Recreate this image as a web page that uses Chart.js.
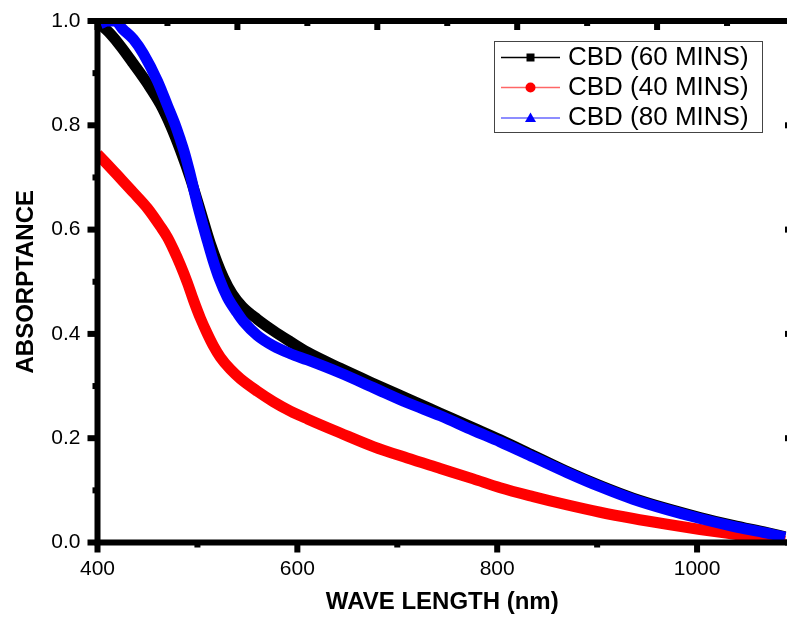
<!DOCTYPE html>
<html>
<head>
<meta charset="utf-8">
<script src="https://cdn.jsdelivr.net/npm/chart.js@4.4.1/dist/chart.umd.min.js"></script>
<style>
    html, body { margin: 0; padding: 0; background: #fff; }
    #wrap { width: 787px; height: 618px; }
</style>
</head>
<body>
<div id="wrap"><canvas id="grafico" width="787" height="618"></canvas></div>
<script>
// ==============================
// Datos
// ==============================
const wl60 = [400, 405, 413, 423, 436, 450, 463, 473, 483, 493, 503, 513, 526, 535, 545, 560, 576, 593, 610, 643, 676, 710, 743, 776, 803, 836, 870, 903, 936, 970, 1003, 1036, 1070, 1088];
const abs60 = [1.0, 0.99, 0.975, 0.952, 0.918, 0.880, 0.840, 0.800, 0.752, 0.698, 0.636, 0.573, 0.508, 0.476, 0.452, 0.428, 0.406, 0.385, 0.365, 0.334, 0.305, 0.276, 0.248, 0.220, 0.197, 0.167, 0.136, 0.109, 0.085, 0.065, 0.048, 0.033, 0.019, 0.011];

const wl40 = [400, 410, 423, 436, 450, 463, 470, 476, 483, 490, 496, 503, 510, 516, 523, 533, 543, 560, 576, 593, 610, 643, 676, 710, 743, 776, 803, 836, 870, 903, 936, 970, 1003, 1036, 1070, 1088];
const abs40 = [0.745, 0.725, 0.698, 0.671, 0.641, 0.606, 0.585, 0.562, 0.532, 0.498, 0.465, 0.430, 0.400, 0.377, 0.355, 0.332, 0.314, 0.290, 0.270, 0.252, 0.237, 0.210, 0.184, 0.162, 0.142, 0.122, 0.105, 0.088, 0.072, 0.058, 0.046, 0.035, 0.025, 0.016, 0.007, 0.002];

const wl80 = [403, 410, 418, 425, 436, 446, 460, 470, 478, 483, 487, 492, 500, 510, 515, 522, 530, 540, 546, 560, 576, 593, 610, 643, 676, 710, 743, 776, 803, 836, 870, 903, 936, 970, 1003, 1036, 1070, 1088];
const abs80 = [0.995, 1.0, 1.0, 0.985, 0.965, 0.937, 0.885, 0.838, 0.800, 0.772, 0.748, 0.712, 0.648, 0.578, 0.545, 0.505, 0.470, 0.440, 0.424, 0.397, 0.377, 0.362, 0.350, 0.325, 0.297, 0.268, 0.243, 0.215, 0.193, 0.164, 0.134, 0.107, 0.083, 0.063, 0.046, 0.031, 0.018, 0.010];

const etiquetas = ["CBD (60 MINS)", "CBD (40 MINS)", "CBD (80 MINS)"];
const xTicks = [400, 600, 800, 1000];
const xMinor = [500, 700, 900];
const yTicks = [0.0, 0.2, 0.4, 0.6, 0.8, 1.0];
const yMinor = [0.1, 0.3, 0.5, 0.7, 0.9];
const topTicks = [400, 470, 540, 610, 680, 750, 820, 890, 960, 1030];

const fuente = "'Liberation Sans', Arial, sans-serif";
const pares = (xs, ys) => xs.map((x, i) => ({ x: x, y: ys[i] }));

// ==============================
// Marco y marcas de ejes
// ==============================
const marcoPlugin = {
    id: "marco",
    afterDatasetsDraw(chart) {
        const { ctx, chartArea: a, scales: { x, y } } = chart;
        ctx.save();
        ctx.strokeStyle = "#000";
        ctx.fillStyle = "#000";
        ctx.lineWidth = 6;
        ctx.beginPath();
        ctx.moveTo(a.left, a.top - 3);
        ctx.lineTo(a.left, a.bottom + 3);
        ctx.moveTo(a.left - 3, a.bottom);
        ctx.lineTo(chart.width, a.bottom);
        ctx.moveTo(a.left - 3, a.top);
        ctx.lineTo(chart.width, a.top);
        ctx.stroke();

        xTicks.forEach(v => { const p = x.getPixelForValue(v); ctx.fillRect(p - 3, a.bottom, 6, 10); });
        xMinor.forEach(v => { const p = x.getPixelForValue(v); ctx.fillRect(p - 3, a.bottom, 6, 5); });
        yTicks.forEach(v => { const p = y.getPixelForValue(v); ctx.fillRect(a.left - 10, p - 3, 10, 6); });
        yMinor.forEach(v => { const p = y.getPixelForValue(v); ctx.fillRect(a.left - 5, p - 3, 5, 6); });
        topTicks.forEach((v, i) => {
            const p = x.getPixelForValue(v);
            ctx.fillRect(p - 3, a.top, 6, i % 2 === 0 ? 9 : 5);
        });
        yTicks.forEach(v => { const p = y.getPixelForValue(v); ctx.fillRect(a.right - 2, p - 3, 4, 6); });
        ctx.restore();
    }
};

// ==============================
// Leyenda dentro del gráfico
// ==============================
const leyendaPlugin = {
    id: "leyenda",
    afterDraw(chart) {
        const ctx = chart.ctx;
        ctx.save();
        ctx.strokeStyle = "#444";
        ctx.lineWidth = 1;
        ctx.strokeRect(494.5, 41.5, 268, 91);
        const filas = [57.5, 87.5, 118];
        const lineas = ["#000", "rgba(255,0,0,0.6)", "rgba(0,0,255,0.6)"];
        chart.data.datasets.forEach((ds, i) => {
            const yy = filas[i];
            ctx.strokeStyle = lineas[i];
            ctx.lineWidth = 1.5;
            ctx.beginPath();
            ctx.moveTo(501, yy);
            ctx.lineTo(560, yy);
            ctx.stroke();
            ctx.fillStyle = ds.borderColor;
            ctx.beginPath();
            if (ds.marcador === "rect") {
                ctx.rect(526.5, yy - 4, 8, 8);
            } else if (ds.marcador === "circle") {
                ctx.arc(530.5, yy, 5, 0, Math.PI * 2);
            } else {
                ctx.moveTo(530.5, yy - 5.5);
                ctx.lineTo(536, yy + 4);
                ctx.lineTo(525, yy + 4);
                ctx.closePath();
            }
            ctx.fill();
            ctx.fillStyle = "#000";
            ctx.font = "26px " + fuente;
            ctx.textBaseline = "middle";
            ctx.textAlign = "left";
            ctx.fillText(ds.label, 568, yy);
        });
        ctx.restore();
    }
};

const ctx = document.getElementById("grafico").getContext("2d");
new Chart(ctx, {
    type: "line",
    data: {
        datasets: [
            { label: etiquetas[0], data: pares(wl60, abs60), borderColor: "#000000", marcador: "rect", order: 2 },
            { label: etiquetas[1], data: pares(wl40, abs40), borderColor: "#ff0000", marcador: "circle", order: 1 },
            { label: etiquetas[2], data: pares(wl80, abs80), borderColor: "#0000ff", marcador: "triangle", order: 0 }
        ].map(d => Object.assign(d, {
            borderWidth: 11,
            pointRadius: 0,
            fill: false,
            cubicInterpolationMode: "monotone",
            borderJoinStyle: "round",
            clip: 0
        }))
    },
    options: {
        responsive: false,
        animation: false,
        devicePixelRatio: 1,
        layout: { padding: { top: 21, right: 0, left: 0, bottom: 0 } },
        plugins: {
            legend: { display: false },
            tooltip: { enabled: false }
        },
        scales: {
            x: {
                type: "linear",
                min: 400,
                max: 1090,
                afterFit(s) {
                    s.height = 75.5;
                    s.paddingLeft = 0;
                    s.paddingRight = 0;
                },
                afterBuildTicks(s) { s.ticks = xTicks.map(v => ({ value: v })); },
                grid: { display: false, drawTicks: false },
                border: { display: false },
                ticks: {
                    font: { family: fuente, size: 21 },
                    color: "#000",
                    padding: 14,
                    callback: v => String(v)
                },
                title: {
                    display: true,
                    text: "WAVE LENGTH (nm)",
                    font: { family: fuente, size: 24, weight: "bold" },
                    color: "#000",
                    padding: { top: 0, bottom: 1 }
                }
            },
            y: {
                type: "linear",
                min: 0,
                max: 1,
                afterFit(s) {
                    s.width = 97.5;
                    s.paddingTop = 0;
                    s.paddingBottom = 0;
                },
                afterBuildTicks(s) { s.ticks = yTicks.map(v => ({ value: v })); },
                grid: { display: false, drawTicks: false },
                border: { display: false },
                ticks: {
                    font: { family: fuente, size: 21 },
                    color: "#000",
                    padding: 17,
                    callback: v => v.toFixed(1)
                },
                title: {
                    display: true,
                    text: "ABSORPTANCE",
                    font: { family: fuente, size: 24, weight: "bold" },
                    color: "#000",
                    padding: { top: 12, bottom: 0 }
                }
            }
        }
    },
    plugins: [marcoPlugin, leyendaPlugin]
});
</script>
</body>
</html>
